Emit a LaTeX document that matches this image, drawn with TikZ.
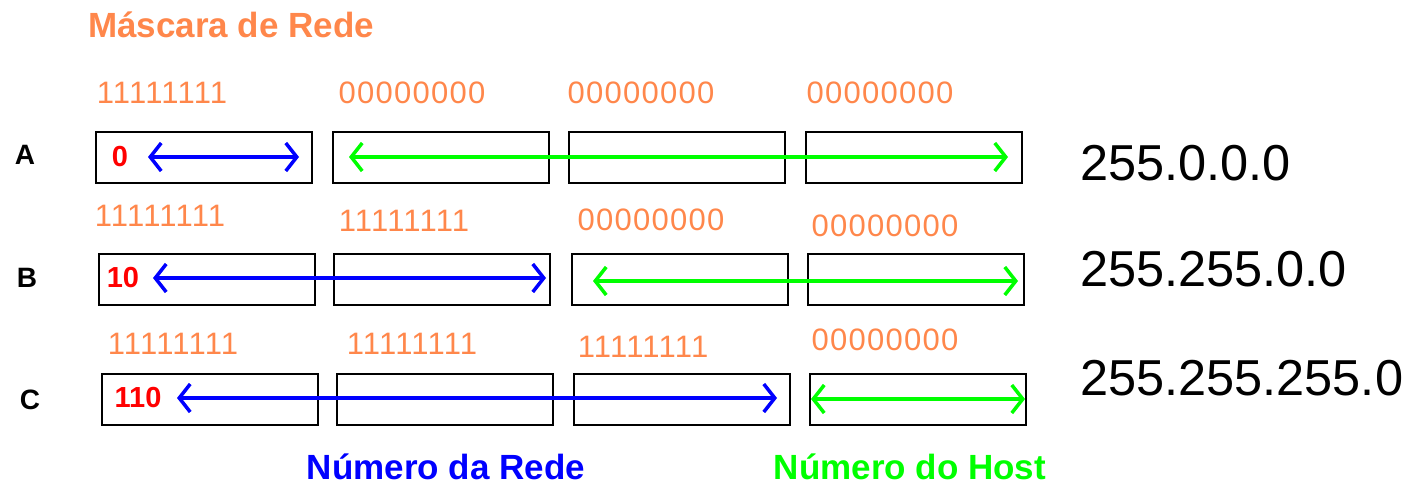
\documentclass[tikz,border=0pt]{standalone}
\usepackage{fontspec}
\setmainfont{Liberation Sans}
\newfontfamily\bitfont[LetterSpace=4.0]{Liberation Sans}
\usetikzlibrary{arrows.meta}
\definecolor{maskorange}{RGB}{255,135,75}
\definecolor{netblue}{RGB}{0,0,255}
\definecolor{hostgreen}{RGB}{0,255,0}
\definecolor{bitred}{RGB}{255,0,0}
\tikzset{
  box/.style={draw=black, line width=2.2pt, minimum width=216pt, minimum height=51pt, anchor=north west, inner sep=0pt},
  bits/.style={text=maskorange, font=\bitfont\fontsize{31}{36}\selectfont, inner sep=0pt},
  classlbl/.style={font=\bfseries\fontsize{28}{34}\selectfont, inner sep=0pt},
  classbits/.style={text=bitred, font=\bfseries\fontsize{29}{34}\selectfont, inner sep=0pt},
  masklbl/.style={font=\fontsize{50.5}{58}\selectfont, anchor=west, inner sep=0pt},
  bigtitle/.style={font=\bfseries\fontsize{35}{40}\selectfont, inner sep=0pt},
  arr/.style={line width=3.5pt, {Straight Barb[length=11pt,width=28pt]}-{Straight Barb[length=11pt,width=28pt]}},
  netarr/.style={arr, draw=netblue},
  hostarr/.style={arr, draw=hostgreen}
}
\begin{document}
\begin{tikzpicture}[x=1pt,y=-1pt]
\useasboundingbox (0,0) rectangle (1404,485);

% title
\node[bigtitle, text=maskorange] (title) at (231,25) {Máscara de Rede};

% ---------- Row A ----------
\node[classlbl] (lA) at (25,155) {A};
\node[box] (A1) at (95,131) {};
\node[box] (A2) at (332,131) {};
\node[box] (A3) at (568,131) {};
\node[box] (A4) at (805,131) {};
\node[bits] (bA1) at (162,93) {11111111};
\node[bits] (bA2) at (412,93) {00000000};
\node[bits] (bA3) at (641,93) {00000000};
\node[bits] (bA4) at (880,93) {00000000};
\node[classbits] (pA) at (120,157) {0};
\coordinate (nAs) at (148,157);
\coordinate (nAe) at (299,157);
\coordinate (hAs) at (349,157);
\coordinate (hAe) at (1008,157);
\draw[netarr] (nAs) -- (nAe);
\draw[hostarr] (hAs) -- (hAe);
\node[masklbl] (mA) at (1080,163) {255.0.0.0};

% ---------- Row B ----------
\node[classlbl] (lB) at (27,278) {B};
\node[box] (B1) at (98,253) {};
\node[box] (B2) at (333,253) {};
\node[box] (B3) at (571,253) {};
\node[box] (B4) at (807,253) {};
\node[bits] (bB1) at (160,216) {11111111};
\node[bits] (bB2) at (404,221) {11111111};
\node[bits] (bB3) at (651,220) {00000000};
\node[bits] (bB4) at (885,226) {00000000};
\node[classbits] (pB) at (123,278) {10};
\coordinate (nBs) at (153,278);
\coordinate (nBe) at (546,278);
\coordinate (hBs) at (593,281);
\coordinate (hBe) at (1018,281);
\draw[netarr] (nBs) -- (nBe);
\draw[hostarr] (hBs) -- (hBe);
\node[masklbl] (mB) at (1080,269) {255.255.0.0};

% ---------- Row C ----------
\node[classlbl] (lC) at (30,400) {C};
\node[box] (C1) at (101,373) {};
\node[box] (C2) at (336,373) {};
\node[box] (C3) at (573,373) {};
\node[box] (C4) at (809,373) {};
\node[bits] (bC1) at (173,344) {11111111};
\node[bits] (bC2) at (412,344) {11111111};
\node[bits] (bC3) at (643,347) {11111111};
\node[bits] (bC4) at (885,340) {00000000};
\node[classbits] (pC) at (138,398) {110};
\coordinate (nCs) at (177,398);
\coordinate (nCe) at (777,398);
\coordinate (hCs) at (811,399);
\coordinate (hCe) at (1025,399);
\draw[netarr] (nCs) -- (nCe);
\draw[hostarr] (hCs) -- (hCe);
\node[masklbl] (mC) at (1080,378) {255.255.255.0};

% legends
\node[bigtitle, text=netblue] (legNet) at (446,467) {Número da Rede};
\node[bigtitle, text=hostgreen] (legHost) at (910,467) {Número do Host};
\end{tikzpicture}
\end{document}
